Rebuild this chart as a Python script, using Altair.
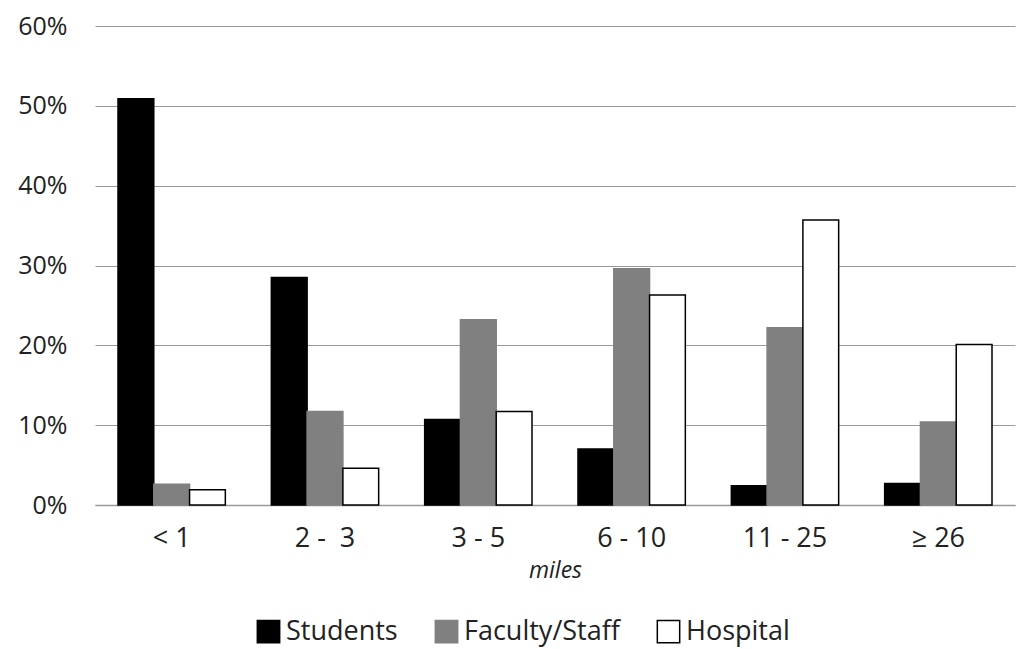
import altair as alt
import pandas as pd

categories = ["< 1", "2 -\u00a0 3", "3 - 5", "6 - 10", "11 - 25", "≥ 26"]
groups = ["Students", "Faculty/Staff", "Hospital"]
students = [50.9, 28.5, 10.7, 7.0, 2.4, 2.7]
faculty = [2.6, 11.7, 23.2, 29.6, 22.2, 10.4]
hospital = [1.9, 4.6, 11.7, 26.3, 35.7, 20.1]

rows = []
for i, c in enumerate(categories):
    for g, vals in zip(groups, [students, faculty, hospital]):
        rows.append({"dist": c, "group": g, "value": vals[i] / 100.0})
df = pd.DataFrame(rows)

FONT = "Open Sans"
TXT = "#222222"

bars = alt.Chart(df).mark_bar(strokeWidth=1.5).encode(
    x=alt.X("dist:N", sort=categories,
            scale=alt.Scale(paddingInner=0.30, paddingOuter=0.15),
            axis=alt.Axis(title="miles", titleFontStyle="italic", titleFont=FONT,
                          titleFontSize=23, titleFontWeight="normal", titleColor=TXT,
                          titlePadding=8, labelAngle=0, labelFont=FONT, labelFontSize=27,
                          labelColor=TXT, labelPadding=20, ticks=False,
                          domainColor="#999999", domainWidth=1.5, grid=False)),
    xOffset=alt.XOffset("group:N", sort=groups),
    y=alt.Y("value:Q", scale=alt.Scale(domain=[0, 0.6]),
            axis=alt.Axis(title=None, format=".0%", values=[0, 0.1, 0.2, 0.3, 0.4, 0.5, 0.6],
                          labelFont=FONT, labelFontSize=25, labelColor=TXT, labelPadding=28,
                          ticks=False, domain=False, gridColor="#999999", gridWidth=1)),
    color=alt.Color("group:N", sort=groups,
                    scale=alt.Scale(domain=groups, range=["#000000", "#808080", "#ffffff"]),
                    legend=alt.Legend(title=None, orient="none", legendX=160, legendY=592,
                                      direction="horizontal", symbolType="square",
                                      symbolSize=500, symbolStrokeWidth=1.5,
                                      labelFont=FONT, labelFontSize=27, labelColor=TXT,
                                      labelOffset=4, columnPadding=34, labelLimit=300)),
    stroke=alt.Stroke("group:N", sort=groups,
                      scale=alt.Scale(domain=groups, range=["#000000", "#808080", "#000000"]),
                      legend=None),
).properties(width=920, height=479)

chart = bars.properties(
    autosize=alt.AutoSizeParams(type="none"),
    padding={"left": 87, "top": 18, "right": 3, "bottom": 144},
    background="white",
).configure_view(stroke=None)

chart.save("out.html", embed_options={"renderer": "svg", "actions": False})
